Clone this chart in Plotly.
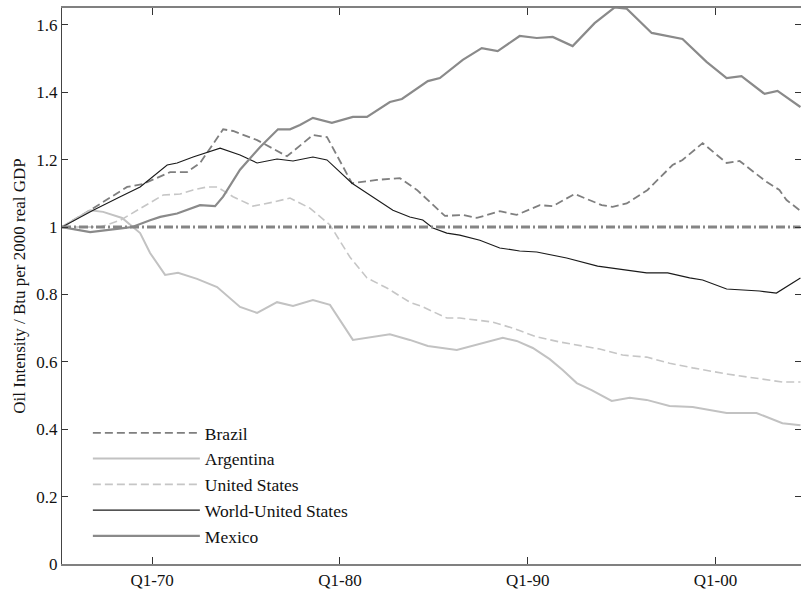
import plotly.graph_objects as go

# ---- data (decimal years, index values) ----
mexico_x = [1965.2, 1966.7, 1968.46, 1968.94, 1969.89, 1970.43, 1971.33, 1972.55, 1973.35, 1973.78,
            1974.68, 1975.74, 1976.70, 1977.34, 1977.87, 1978.56, 1979.57, 1980.69, 1981.44, 1982.66,
            1983.30, 1984.68, 1985.32, 1986.54, 1987.55, 1988.40, 1989.57, 1990.48, 1991.33, 1992.39,
            1993.56, 1994.63, 1995.27, 1996.60, 1998.24, 1999.52, 2000.59, 2001.38, 2002.61, 2003.30, 2004.52]
mexico_y = [1.0, 0.985, 0.997, 1.0, 1.02, 1.03, 1.04, 1.065, 1.062, 1.09,
            1.17, 1.237, 1.29, 1.29, 1.303, 1.324, 1.309, 1.327, 1.327, 1.371,
            1.38, 1.433, 1.442, 1.496, 1.531, 1.522, 1.567, 1.561, 1.564, 1.537,
            1.605, 1.652, 1.648, 1.576, 1.558, 1.49, 1.442, 1.448, 1.395, 1.404, 1.356]

brazil_x = [1965.2, 1966.7, 1968.67, 1969.52, 1970.96, 1971.86, 1972.55, 1973.78, 1974.31, 1975.59,
            1977.18, 1978.56, 1979.31, 1980.64, 1981.97, 1983.19, 1984.10, 1985.59, 1986.54, 1987.29,
            1988.51, 1989.41, 1990.64, 1991.33, 1992.50, 1993.94, 1994.52, 1995.27, 1996.38, 1997.71,
            1998.24, 1999.31, 2000.59, 2001.28, 2002.71, 2003.40, 2003.78, 2004.52]
brazil_y = [1.0, 1.05, 1.119, 1.128, 1.163, 1.163, 1.19, 1.29, 1.285, 1.258,
            1.21, 1.273, 1.267, 1.13, 1.14, 1.145, 1.11, 1.033, 1.036, 1.027,
            1.047, 1.036, 1.065, 1.062, 1.098, 1.065, 1.06, 1.07, 1.11, 1.184,
            1.199, 1.249, 1.19, 1.196, 1.134, 1.11, 1.08, 1.048]

world_x = [1965.2, 1966.86, 1968.30, 1969.36, 1970.80, 1971.33, 1972.18, 1973.62, 1974.68, 1975.59,
           1976.65, 1977.50, 1978.56, 1979.31, 1980.64, 1981.33, 1981.97, 1982.82, 1983.72, 1984.41,
           1984.95, 1985.69, 1986.38, 1987.45, 1988.51, 1989.57, 1990.48, 1991.70, 1992.07, 1993.72,
           1995.27, 1996.33, 1997.45, 1998.62, 1999.31, 2000.59, 2002.34, 2003.24, 2004.52]
world_y = [1.0, 1.05, 1.09, 1.119, 1.184, 1.19, 1.208, 1.234, 1.214, 1.19,
           1.202, 1.196, 1.208, 1.199, 1.13, 1.104, 1.08, 1.05, 1.03, 1.021,
           0.997, 0.982, 0.976, 0.961, 0.938, 0.929, 0.926, 0.911, 0.908, 0.884,
           0.872, 0.864, 0.864, 0.849, 0.843, 0.816, 0.81, 0.804, 0.849]

us_x = [1965.2, 1967.23, 1968.30, 1969.52, 1970.59, 1971.49, 1972.18, 1972.93, 1973.46, 1974.31,
        1975.37, 1976.44, 1977.34, 1978.40, 1979.47, 1980.53, 1981.44, 1982.50, 1983.72, 1984.41,
        1985.69, 1986.38, 1988.14, 1989.20, 1990.48, 1991.70, 1992.61, 1993.83, 1995.05, 1996.33,
        1997.55, 1998.78, 2000.59, 2001.81, 2003.56, 2004.52]
us_y = [1.0, 1.0, 1.02, 1.06, 1.095, 1.098, 1.11, 1.119, 1.119, 1.09,
        1.062, 1.074, 1.086, 1.056, 1.006, 0.911, 0.849, 0.819, 0.777, 0.763,
        0.73, 0.73, 0.718, 0.70, 0.674, 0.659, 0.65, 0.638, 0.62, 0.614,
        0.596, 0.582, 0.564, 0.555, 0.54, 0.54]

arg_x = [1965.2, 1966.70, 1967.39, 1968.40, 1969.36, 1969.89, 1970.69, 1971.38, 1972.39, 1973.46,
         1974.68, 1975.59, 1976.65, 1977.50, 1978.56, 1979.47, 1980.69, 1981.44, 1982.66, 1983.72,
         1984.68, 1986.22, 1987.07, 1987.82, 1988.67, 1989.41, 1990.27, 1991.17, 1991.86, 1992.61,
         1993.40, 1994.47, 1995.43, 1996.33, 1997.55, 1998.78, 2000.59, 2002.18, 2003.56, 2004.52]
arg_y = [1.0, 1.05, 1.045, 1.027, 0.982, 0.923, 0.858, 0.864, 0.846, 0.822,
         0.763, 0.745, 0.777, 0.766, 0.783, 0.769, 0.665, 0.671, 0.682, 0.665,
         0.647, 0.635, 0.647, 0.659, 0.671, 0.662, 0.641, 0.608, 0.576, 0.537,
         0.516, 0.484, 0.493, 0.487, 0.469, 0.466, 0.448, 0.448, 0.418, 0.412]

reference_value = 1.0

tick_years = [1970, 1980, 1990, 2000]
tick_labels = ["Q1-70", "Q1-80", "Q1-90", "Q1-00"]
y_ticks = [0, 0.2, 0.4, 0.6, 0.8, 1, 1.2, 1.4, 1.6]
y_labels = ["0", "0.2", "0.4", "0.6", "0.8", "1", "1.2", "1.4", "1.6"]

FONT = "Liberation Serif"

fig = go.Figure()
fig.add_trace(go.Scatter(x=brazil_x, y=brazil_y, mode="lines", name="Brazil",
                         line=dict(color="#7f7f7f", width=1.8, dash="8px,4px")))
fig.add_trace(go.Scatter(x=arg_x, y=arg_y, mode="lines", name="Argentina",
                         line=dict(color="#c2c2c2", width=2)))
fig.add_trace(go.Scatter(x=us_x, y=us_y, mode="lines", name="United States",
                         line=dict(color="#c6c6c6", width=1.6, dash="8px,4px")))
fig.add_trace(go.Scatter(x=world_x, y=world_y, mode="lines", name="World-United States",
                         line=dict(color="#1a1a1a", width=1.1)))
fig.add_trace(go.Scatter(x=mexico_x, y=mexico_y, mode="lines", name="Mexico",
                         line=dict(color="#8a8a8a", width=2.2)))
xmin = min(mexico_x)
xmax = max(mexico_x)
fig.add_trace(go.Scatter(x=[xmin, xmax], y=[reference_value, reference_value], mode="lines",
                         showlegend=False, hoverinfo="skip",
                         line=dict(color="#858585", width=3, dash="9px,3px,2px,3px")))

fig.update_layout(
    width=801, height=591,
    margin=dict(l=62, r=0, t=8, b=27),
    paper_bgcolor="white", plot_bgcolor="white",
    font=dict(family=FONT, size=17, color="#111"),
    showlegend=True,
    legend=dict(x=0.035, y=0.268, xanchor="left", yanchor="top",
                bgcolor="rgba(0,0,0,0)", borderwidth=0,
                font=dict(family=FONT, size=17.5, color="#111"),
                itemwidth=107, tracegroupgap=0),
)
fig.update_xaxes(range=[xmin, xmax + 0.03], tickmode="array", tickvals=tick_years, ticktext=tick_labels,
                 ticks="inside", ticklen=7, tickcolor="#333", tickwidth=1,
                 showline=True, linecolor="#808080", linewidth=1.5, mirror="ticks",
                 showgrid=False, zeroline=False, tickfont=dict(family=FONT, size=17, color="#111"))
fig.update_yaxes(range=[0, 1.65], tickmode="array", tickvals=y_ticks, ticktext=y_labels,
                 ticks="inside", ticklen=6, tickcolor="#333", tickwidth=1,
                 showline=True, linecolor="#444", linewidth=1.2, mirror="ticks",
                 showgrid=False, zeroline=False, tickfont=dict(family=FONT, size=17, color="#111"),
                 title=dict(text="Oil Intensity / Btu per 2000 real GDP",
                            font=dict(family=FONT, size=17, color="#111"), standoff=6))

fig.write_html("out.html")
